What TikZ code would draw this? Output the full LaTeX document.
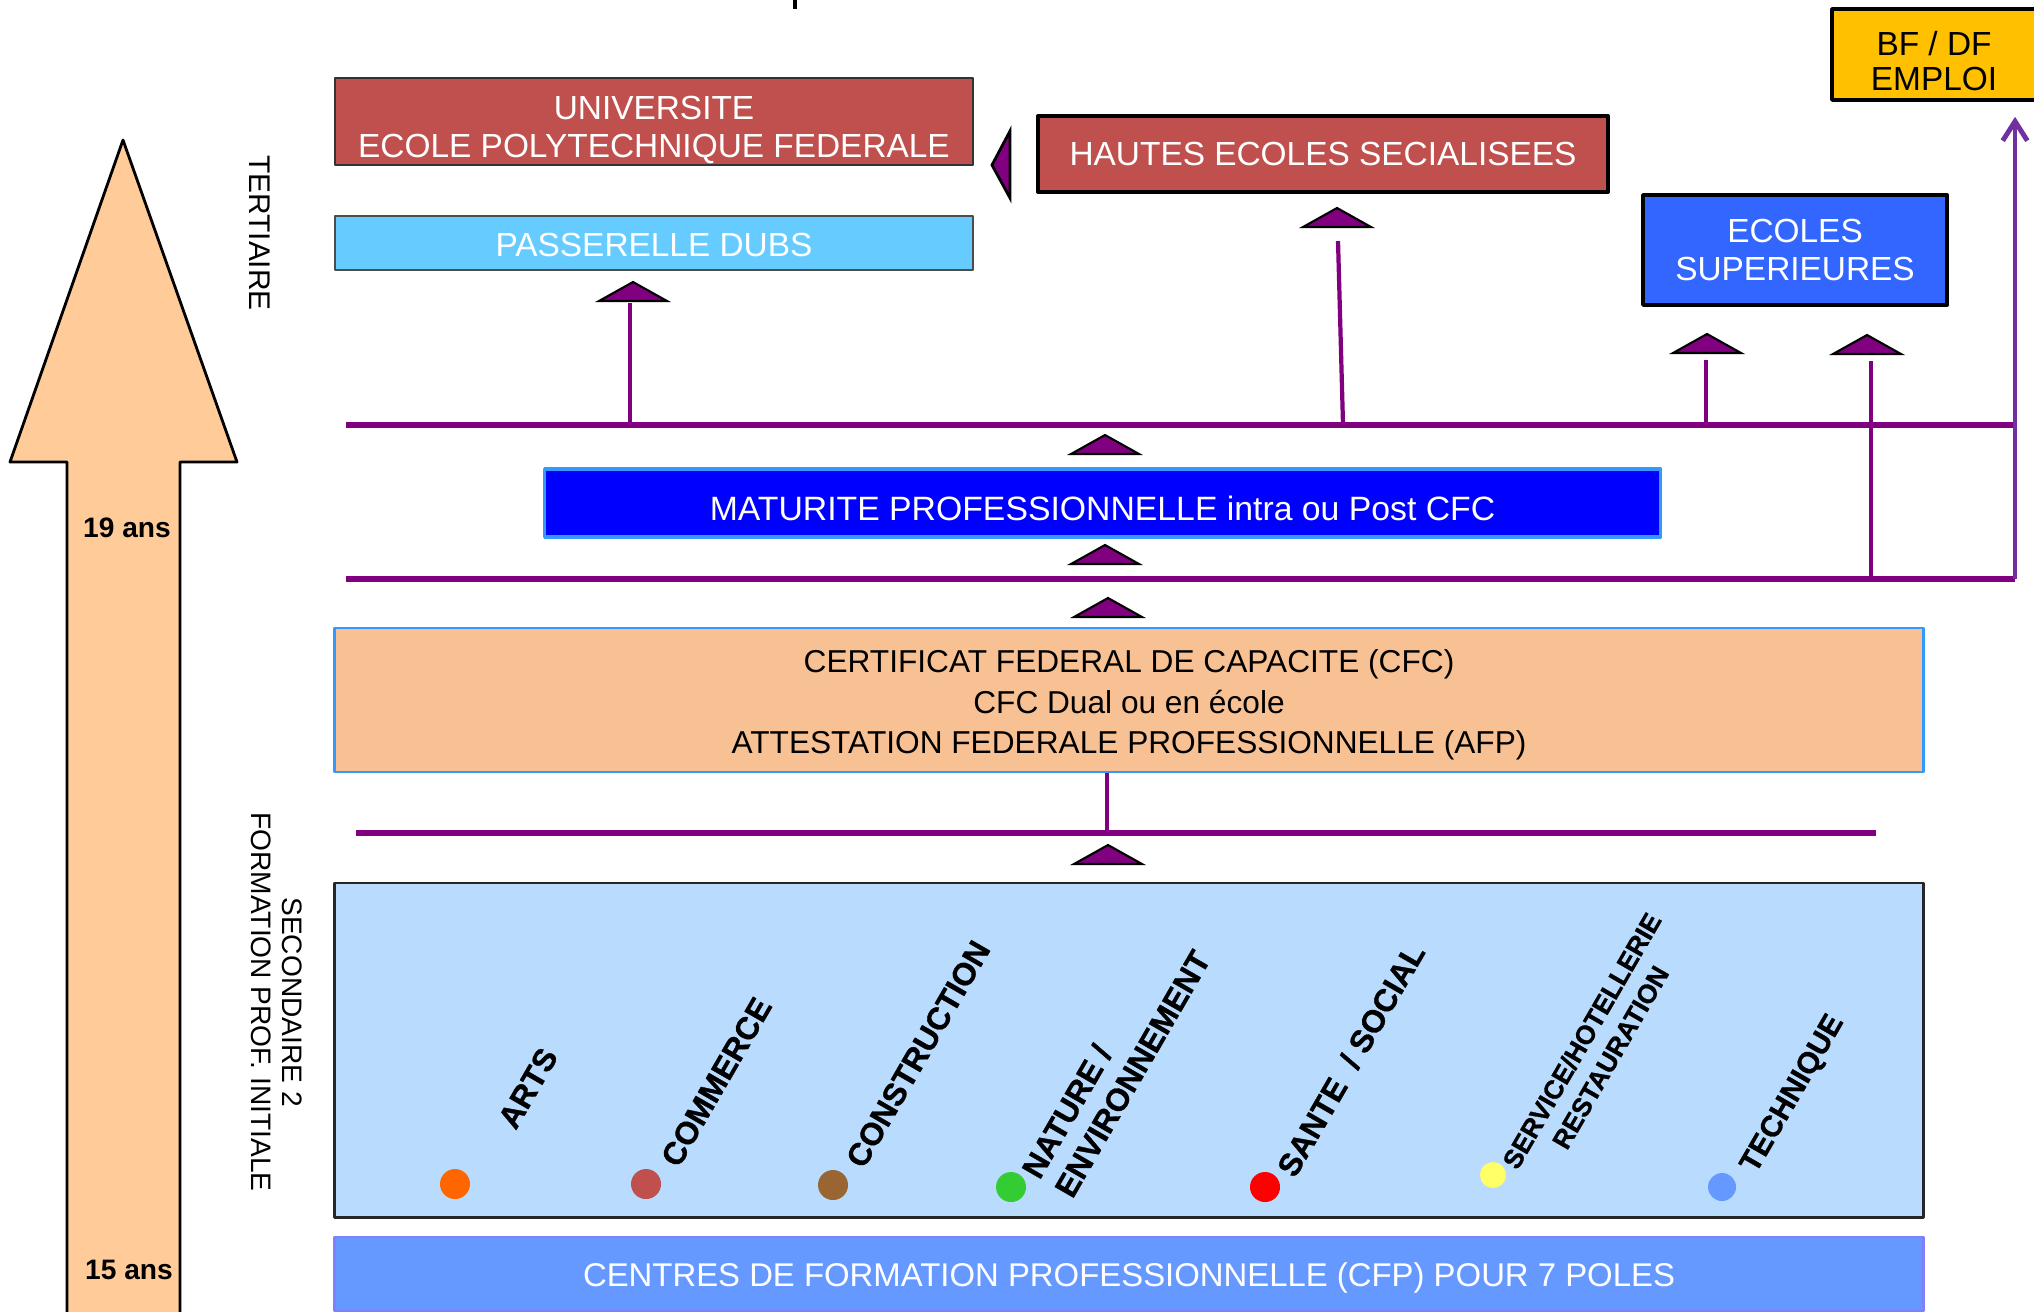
\documentclass[tikz,border=0pt]{standalone}
\usepackage{fontspec}
\setmainfont{Liberation Sans}
\usetikzlibrary{arrows.meta}

\definecolor{rougeuni}{HTML}{C0504D}
\definecolor{bleuciel}{HTML}{66CCFF}
\definecolor{bleusup}{HTML}{3366FF}
\definecolor{bleumatu}{HTML}{0000FF}
\definecolor{bordbleu}{HTML}{3399FF}
\definecolor{peche}{HTML}{F8C193}
\definecolor{bleusec}{HTML}{B8DBFE}
\definecolor{bleucfp}{HTML}{6699FF}
\definecolor{bordcfp}{HTML}{8080FF}
\definecolor{orjaune}{HTML}{FFC000}
\definecolor{saumon}{HTML}{FFCC99}
\definecolor{lienviolet}{HTML}{800080}
\definecolor{violetfl}{HTML}{7030A0}
\definecolor{ptorange}{HTML}{FF6600}
\definecolor{ptbrun}{HTML}{996633}
\definecolor{ptvert}{HTML}{33CC33}
\definecolor{ptrouge}{HTML}{FF0000}
\definecolor{ptjaune}{HTML}{FFFF66}

\newcommand{\boxfont}{\fontsize{9.5}{11}\selectfont}
\newcommand{\polefont}{\fontsize{9}{10.8}\selectfont\bfseries\addfontfeatures{FakeBold=1}}
\newcommand{\agefont}{\fontsize{8}{9.6}\selectfont\bfseries}
\newcommand{\niveaufont}{\fontsize{8}{8.8}\selectfont}
\newcommand{\decal}[1]{\rule{0pt}{#1}}

\begin{document}
\begin{tikzpicture}[x=0.01cm, y=-0.01cm, line join=round, font=\boxfont,
    bloc/.style={draw, rectangle, inner sep=0pt, align=center, text=white},
    bus/.style={draw=lienviolet, line width=1.6pt},
    montant/.style={draw=lienviolet, line width=1.2pt},
    pole/.style={rotate=60, inner sep=0pt, anchor=west, align=left, font=\polefont},
    point/.style={circle, inner sep=0pt, minimum size=0.3cm},
    tri/.pic={\draw[fill=lienviolet, line width=0.6pt, line join=miter] (-34,0) -- (0,-19) -- (34,0) -- cycle;}]
    \useasboundingbox (0,0) rectangle (2034,1311);
    \clip (0,0) rectangle (2034,1311);
    % fleche des ages
    \draw[fill=saumon, line width=0.8pt] (67,1340) -- (67,462) -- (10,462) -- (123,140) -- (237,462) -- (180,462) -- (180,1340);
    \node[font=\agefont] (a19) at (127,528) {19 ans};
    \node[font=\agefont] (a15) at (129,1270) {15 ans};
    \node[font=\fontsize{8.5}{10}\selectfont, rotate=-90] (tert) at (260,233) {TERTIAIRE};
    \node[font=\niveaufont, rotate=-90, align=center] (second) at (277,1002) {SECONDAIRE 2\\FORMATION PROF. INITIALE};
    \fill (793,0) rectangle (797,9);

    % tertiaire
    \node[bloc, fill=rougeuni, draw=black!80, line width=0.6pt, minimum width=6.38cm, minimum height=0.87cm] (univ) at (654,121.5) {\decal{11.4pt}UNIVERSITE\\ECOLE POLYTECHNIQUE FEDERALE};
    \node[bloc, fill=bleuciel, draw=black!70, line width=0.5pt, minimum width=6.38cm, minimum height=0.54cm] (dubs) at (654,243) {\decal{8pt}PASSERELLE DUBS};
    \node[bloc, fill=rougeuni, line width=1pt, minimum width=5.70cm, minimum height=0.76cm] (hes) at (1323,154) {HAUTES ECOLES SECIALISEES};
    \node[bloc, fill=orjaune, text=black, line width=1pt, minimum width=2.04cm, minimum height=0.91cm, font=\fontsize{9.5}{10}\selectfont] (bfdf) at (1934,54.5) {\decal{10.6pt}BF / DF\\EMPLOI};
    \node[bloc, fill=bleusup, line width=1pt, minimum width=3.04cm, minimum height=1.10cm] (ecsup) at (1795,250) {ECOLES\\SUPERIEURES};
    \draw[fill=lienviolet, line width=0.8pt, line join=miter] (992,165) -- (1010,131) -- (1010,198) -- cycle;

    % secondaire
    \node[bloc, fill=bleumatu, draw=bordbleu, line width=1pt, minimum width=11.15cm, minimum height=0.68cm, font=\fontsize{9.6}{11}\selectfont] (matu) at (1102.5,503) {\decal{9.9pt}MATURITE PROFESSIONNELLE intra ou Post CFC};
    \node[bloc, fill=peche, draw=bordbleu, text=black, line width=0.6pt, minimum width=15.88cm, minimum height=1.44cm, font=\fontsize{9}{11.5}\selectfont] (cfc) at (1129,700) {\decal{9.3pt}CERTIFICAT FEDERAL DE CAPACITE (CFC)\\CFC Dual ou en école\\ATTESTATION FEDERALE PROFESSIONNELLE (AFP)};
    \node[bloc, fill=bleusec, draw=black!85, line width=0.8pt, minimum width=15.88cm, minimum height=3.34cm] (sec) at (1129,1050) {};
    \node[bloc, fill=bleucfp, draw=bordcfp, line width=0.6pt, minimum width=15.88cm, minimum height=0.74cm, font=\fontsize{9.35}{11}\selectfont] (cfp) at (1129,1274) {\decal{9.1pt}CENTRES DE FORMATION PROFESSIONNELLE (CFP) POUR 7 POLES};

    % poles
    \node[point, fill=ptorange] (dArts) at (455,1184) {};
    \node[pole] (lArts) at (506,1126) {ARTS};
    \node[point, fill=rougeuni] (dCom) at (646,1184) {};
    \node[pole] (lCom) at (669,1164) {COMMERCE};
    \node[point, fill=ptbrun] (dCons) at (833,1185) {};
    \node[pole] (lCons) at (854,1165) {CONSTRUCTION};
    \node[point, fill=ptvert] (dNat) at (1011,1187) {};
    \node[pole] (lNat) at (1046,1185) {NATURE /\\ENVIRONNEMENT};
    \node[point, fill=ptrouge] (dSan) at (1265,1187) {};
    \node[pole] (lSan) at (1285,1174) {SANTE~~/~SOCIAL};
    \node[point, fill=ptjaune, minimum size=0.26cm] (dSer) at (1493,1175) {};
    \node[pole, anchor=center, align=center, font=\fontsize{7.5}{9.4}\selectfont\bfseries\addfontfeatures{FakeBold=1}] (lSer) at (1596,1049) {SERVICE/HOTELLERIE\\RESTAURATION};
    \node[point, fill=bleucfp, minimum size=0.28cm] (dTec) at (1722,1187) {};
    \node[pole, font=\fontsize{8.5}{10}\selectfont\bfseries\addfontfeatures{FakeBold=1}] (lTec) at (1749,1171) {TECHNIQUE};

    % liaisons
    \coordinate (b1w) at (346,425); \coordinate (b1e) at (2015,425);
    \coordinate (b2w) at (346,579); \coordinate (b2e) at (2015,579);
    \coordinate (b3w) at (356,833); \coordinate (b3e) at (1876,833);
    \draw[bus] (b1w) -- (b1e);
    \draw[bus] (b2w) -- (b2e);
    \draw[bus] (b3w) -- (b3e);
    \coordinate (vDubs) at (630,303);
    \coordinate (vHes) at (1338,241);
    \coordinate (vSup) at (1706,360);
    \coordinate (vSupb) at (1871,361);
    \coordinate (vCfc) at (1107,833);
    \draw[montant] (vDubs) -- (vDubs |- b1w);
    \draw[montant] (vHes) -- ([xshift=0.05cm]vHes |- b1w);
    \draw[montant] (vSup) -- (vSup |- b1w);
    \draw[montant] (vSupb) -- (vSupb |- b2w);
    \draw[montant] (vCfc |- cfc.south) -- (vCfc);
    \draw[montant, draw=violetfl, line width=1.4pt, -{Straight Barb[length=5.5pt,width=7pt]}] (b2e) -- ([yshift=-0.15cm]b2e |- bfdf.south);

    % fleches triangles
    \pic at (633,301) {tri};
    \pic at (1337,227) {tri};
    \pic at (1707,353) {tri};
    \pic at (1867,354) {tri};
    \pic at (1105,454) {tri};
    \pic at (1105,564) {tri};
    \pic at (1108,617) {tri};
    \pic at (1108,864) {tri};
\end{tikzpicture}
\end{document}
